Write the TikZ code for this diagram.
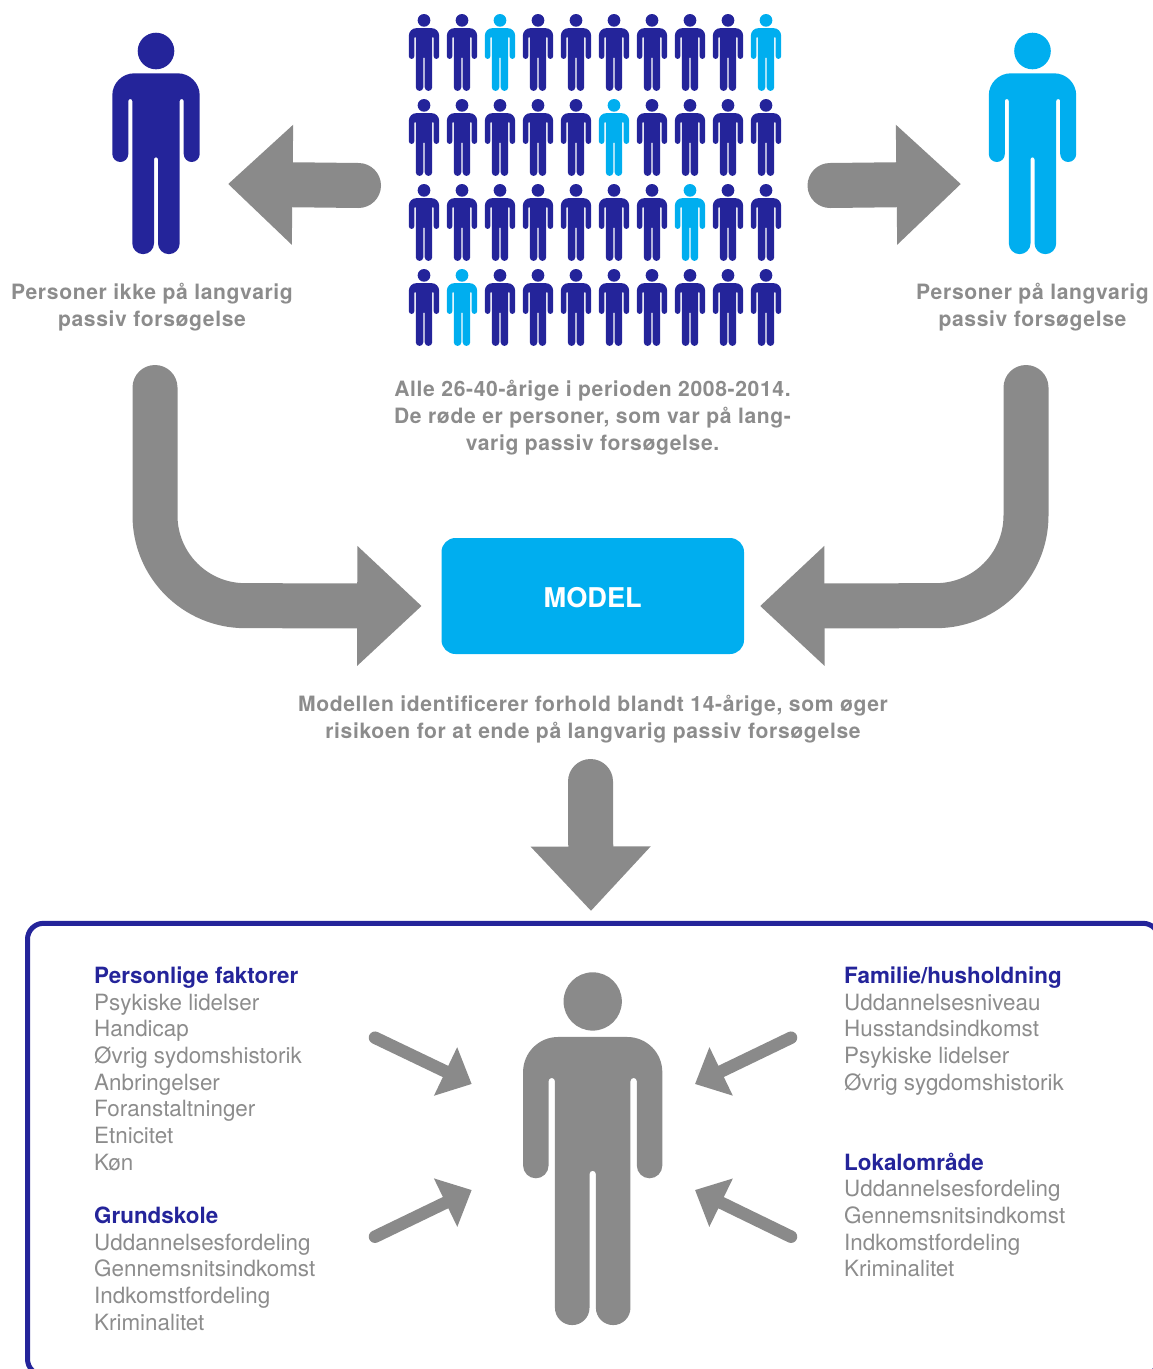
\documentclass[tikz,border=0pt]{standalone}
\usepackage{fontspec}
\setmainfont{TeX Gyre Heros}
\newfontfamily\boldtxt[LetterSpace=3]{TeX Gyre Heros Bold}
\usetikzlibrary{arrows.meta}
\definecolor{navy}{HTML}{24249A}
\definecolor{sky}{HTML}{00AEEF}
\definecolor{arrowgray}{HTML}{8A8A8A}
\definecolor{txtgray}{HTML}{8C8C8C}
\newcommand{\personfig}[4]{%
  \begin{scope}[shift={(#2,#3)},x=#4pt,y=#4pt]
    \fill[#1] (0,-18.3) circle[radius=18.3];
    \fill[#1] (-21.7,-40.6) -- (21.7,-40.6)
      arc[start angle=90,end angle=0,radius=22] -- (43.7,-121.3)
      arc[start angle=0,end angle=-180,radius=8] -- (27.7,-68.3)
      arc[start angle=0,end angle=180,radius=2] -- (23.7,-210.6)
      arc[start angle=0,end angle=-180,radius=10.85] -- (2,-126.6)
      arc[start angle=0,end angle=180,radius=2] -- (-2,-210.6)
      arc[start angle=0,end angle=-180,radius=10.85] -- (-23.7,-68.3)
      arc[start angle=0,end angle=180,radius=2] -- (-27.7,-121.3)
      arc[start angle=0,end angle=-180,radius=8] -- (-43.7,-62.6)
      arc[start angle=180,end angle=90,radius=22] -- cycle;
  \end{scope}}
\tikzset{
  bigarrow/.style={draw=arrowgray,line width=45pt,line cap=round,
    -{Triangle[length=64.5pt,width=116pt,color=arrowgray]}},
  smallarrow/.style={draw=arrowgray,line width=12.5pt,line cap=round,
    -{Triangle[length=29pt,width=52pt,color=arrowgray]}},
  boldlabel/.style={text=txtgray,font=\boldtxt\fontsize{21.1}{27}\selectfont,align=center,inner sep=0pt},
  factorlist/.style={text=txtgray,font=\fontsize{22.4}{26.7}\selectfont,align=left,anchor=north west,inner sep=0pt},
}
\newcommand{\hd}[1]{{\color{navy}\bfseries #1}}
\begin{document}
\begin{tikzpicture}[x=1pt,y=-1pt]
\useasboundingbox (0,0) rectangle (1153,1369);
% people
\personfig{navy}{156}{32.7}{1}
\personfig{sky}{1032.5}{32.7}{1}
\personfig{arrowgray}{592.7}{972.3}{1.593}
\foreach \row/\sk in {0/3,1/6,2/8,3/2}{
  \foreach \col in {1,...,10}{
    \pgfmathsetmacro{\cx}{424+38*(\col-1)}
    \pgfmathsetmacro{\cy}{14+85*\row}
    \ifnum\col=\sk\relax
      \personfig{sky}{\cx}{\cy}{0.3475}
    \else
      \ifnum\row=0\ifnum\col=10\relax
        \personfig{sky}{\cx}{\cy}{0.3475}
      \else
        \personfig{navy}{\cx}{\cy}{0.3475}
      \fi\else
        \personfig{navy}{\cx}{\cy}{0.3475}
      \fi
    \fi
  }
}
% labels
\node[boldlabel] (ikke) at (152,307) {Personer ikke på langvarig\\passiv forsøgelse};
\node[boldlabel] (paa) at (1032.5,307) {Personer på langvarig\\passiv forsøgelse};
\node[boldlabel] (alle) at (592.5,417.5) {Alle 26-40-årige i perioden 2008-2014.\\De røde er personer, som var på lang-\\varig passiv forsøgelse.};
\node[boldlabel] (modeltxt) at (593,719) {Modellen identificerer forhold blandt 14-årige, som øger\\risikoen for at ende på langvarig passiv forsøgelse};
% model box
\node[fill=sky,rounded corners=14pt,minimum width=302.5pt,minimum height=116pt,inner sep=0pt,
  text=white,font=\fontsize{27.2}{32}\bfseries\selectfont] (model) at (592.75,596) {\raisebox{-11.75pt}[0pt][0pt]{MODEL}};
% arrow anchors
\coordinate (a1s) at (358.5,185.5); \coordinate (a1e) at (228,184);
\coordinate (a2s) at (830,185.5); \coordinate (a2e) at (961,184);
\coordinate (b1s) at (155,387.5); \coordinate (b1c) at (155,605.5); \coordinate (b1e) at (421.7,606);
\coordinate (b2s) at (1026,387.5); \coordinate (b2c) at (1026,605.5); \coordinate (b2e) at (760,606);
\coordinate (ds) at (590.5,781.5); \coordinate (de) at (591,911);
\draw[bigarrow] (a1s) -- (a1e);
\draw[bigarrow] (a2s) -- (a2e);
\draw[bigarrow,rounded corners=90pt] (b1s) -- (b1c) -- (b1e);
\draw[bigarrow,rounded corners=90pt] (b2s) -- (b2c) -- (b2e);
\draw[bigarrow] (ds) -- (de);
% frame
\begin{scope}
\clip (0,0) rectangle (1153,1369);
\draw[navy,line width=5pt,rounded corners=16pt] (27.5,923.3) rectangle (1159,1375);
\end{scope}
% small arrows
\coordinate (s1s) at (375,1037.7); \coordinate (s1e) at (471.7,1084);
\coordinate (s2s) at (791,1037.7); \coordinate (s2e) at (695,1084);
\coordinate (s3s) at (375,1236.7); \coordinate (s3e) at (471.7,1190);
\coordinate (s4s) at (791,1236.7); \coordinate (s4e) at (695,1190);
\draw[smallarrow] (s1s) -- (s1e);
\draw[smallarrow] (s2s) -- (s2e);
\draw[smallarrow] (s3s) -- (s3e);
\draw[smallarrow] (s4s) -- (s4e);
% factor lists
\node[factorlist] (pf) at (94,966.5) {\hd{Personlige faktorer}\\Psykiske lidelser\\Handicap\\Øvrig sydomshistorik\\Anbringelser\\Foranstaltninger\\Etnicitet\\Køn};
\node[factorlist] (gs) at (94,1206.5) {\hd{Grundskole}\\Uddannelsesfordeling\\Gennemsnitsindkomst\\Indkomstfordeling\\Kriminalitet};
\node[factorlist] (fh) at (844,966.5) {\hd{Familie/husholdning}\\Uddannelsesniveau\\Husstandsindkomst\\Psykiske lidelser\\Øvrig sygdomshistorik};
\node[factorlist] (lo) at (844,1152.5) {\hd{Lokalområde}\\Uddannelsesfordeling\\Gennemsnitsindkomst\\Indkomstfordeling\\Kriminalitet};
\end{tikzpicture}
\end{document}
